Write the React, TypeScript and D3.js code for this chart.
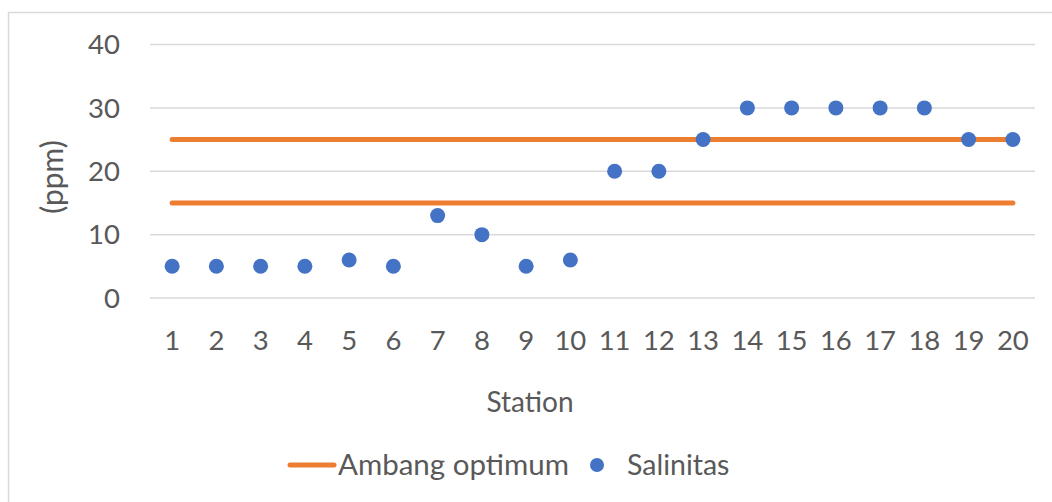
import React from "react";
import * as d3 from "d3";

const stations: string[] = ["1","2","3","4","5","6","7","8","9","10","11","12","13","14","15","16","17","18","19","20"];
const salinitas: number[] = [5,5,5,5,6,5,13,10,5,6,20,20,25,30,30,30,30,30,25,25];
const ambangOptimum: number[] = [15, 25];
const yTicks: number[] = [0, 10, 20, 30, 40];

const W = 1052;
const H = 502;
const FONT = "Lato, 'Open Sans', sans-serif";
const TEXT = "#595959";
const GRID = "#D9D9D9";
const ORANGE = "#ED7D31";
const BLUE = "#4472C4";

export default function App() {
  const x = d3.scaleBand<string>().domain(stations).range([150, 1035]).paddingInner(0).paddingOuter(0);
  const y = d3.scaleLinear().domain([0, 40]).range([298, 44.5]);
  const cx = (s: string) => (x(s) as number) + x.bandwidth() / 2;
  const first = stations[0];
  const last = stations[stations.length - 1];

  return (
    <svg width={W} height={H} style={{ position: "absolute", left: 0, top: 0, background: "#fff" }}>
      <rect x={8.5} y={12.5} width={1100} height={600} fill="#fff" stroke={GRID} strokeWidth={1.5} />
      {yTicks.map((t) => (
        <g key={t}>
          <line x1={150} x2={1035} y1={y(t)} y2={y(t)} stroke={GRID} strokeWidth={1.5} />
          <text x={120} y={y(t)} dy="0.35em" textAnchor="end" fontFamily={FONT} fontSize={27.5} fill={TEXT}>{t}</text>
        </g>
      ))}
      {stations.map((s) => (
        <text key={s} x={cx(s)} y={340} dy="0.35em" textAnchor="middle" fontFamily={FONT} fontSize={27.5} fill={TEXT}>{s}</text>
      ))}
      {ambangOptimum.map((v) => (
        <line key={v} x1={cx(first)} x2={cx(last)} y1={y(v)} y2={y(v)} stroke={ORANGE} strokeWidth={5} strokeLinecap="round" />
      ))}
      {salinitas.map((v, i) => (
        <circle key={i} cx={cx(stations[i])} cy={y(v)} r={7.5} fill={BLUE} />
      ))}
      <text transform={`translate(52,177) rotate(-90)`} dy="0.35em" textAnchor="middle" fontFamily={FONT} fontSize={30} fill={TEXT}>(ppm)</text>
      <text x={530} y={402} dy="0.35em" textAnchor="middle" fontFamily={FONT} fontSize={28} fill={TEXT}>Station</text>
      <line x1={290} x2={334} y1={465} y2={465} stroke={ORANGE} strokeWidth={5} strokeLinecap="round" />
      <text x={338} y={465} dy="0.35em" fontFamily={FONT} fontSize={29.5} fill={TEXT}>Ambang optimum</text>
      <circle cx={597} cy={465} r={7} fill={BLUE} />
      <text x={627} y={465} dy="0.35em" fontFamily={FONT} fontSize={28.5} fill={TEXT}>Salinitas</text>
    </svg>
  );
}
